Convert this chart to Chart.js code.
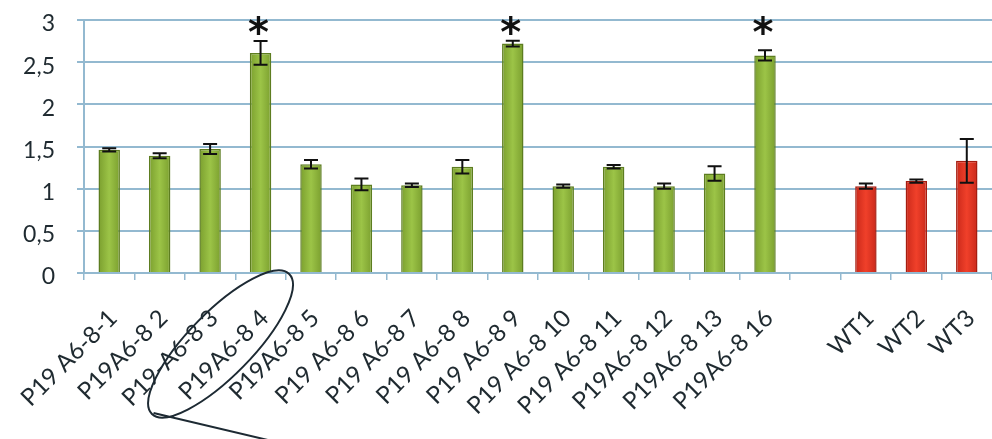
<!DOCTYPE html>
<html>
<head>
<meta charset="utf-8">
<script src="https://cdn.jsdelivr.net/npm/chart.js@4"></script>
<style>
  html, body { margin: 0; padding: 0; background: #fff; }
  #wrap { width: 992px; height: 439px; position: relative; }
</style>
</head>
<body>
<div id="wrap"><canvas id="chart"></canvas></div>
<script>
const labels = [
  "P19 A6-8-1", "P19A6-8 2", "P19-A6-8 3", "P19A6-8 4", "P19A6-8 5",
  "P19 A6-8 6", "P19 A6-8 7", "P19 A6-8 8", "P19 A6-8 9", "P19 A6-8 10",
  "P19 A6-8 11", "P19A6-8 12", "P19A6-8 13", "P19A6-8 16", "",
  "WT1", "WT2", "WT3"
];
const values = [1.46, 1.39, 1.47, 2.61, 1.29, 1.05, 1.04, 1.26, 2.72, 1.03, 1.26, 1.03, 1.18, 2.58, null, 1.03, 1.09, 1.33];
const errors = [0.02, 0.03, 0.06, 0.14, 0.05, 0.07, 0.02, 0.08, 0.035, 0.02, 0.02, 0.03, 0.085, 0.06, null, 0.03, 0.02, 0.26];
const stars = [false, false, false, true, false, false, false, false, true, false, false, false, false, true, false, false, false, false];
const groups = ["line", "line", "line", "line", "line", "line", "line", "line", "line", "line", "line", "line", "line", "line", "", "wt", "wt", "wt"];
const yTicks = [0, 0.5, 1, 1.5, 2, 2.5, 3];
const starLevel = 2.94;
const circledIndex = 3;

const gridBlue = "#93b9d0";
const textColor = "#1f2a30";

function barFill(context) {
  const chart = context.chart;
  const g = groups[context.dataIndex];
  const dark = g === "wt" ? "#c8281a" : "#7a9e2e";
  const light = g === "wt" ? "#f0402a" : "#9cc447";
  const xs = chart.scales.x;
  if (!xs || xs.width === undefined) return light;
  const x = xs.getPixelForValue(context.dataIndex);
  const half = 11;
  const grad = chart.ctx.createLinearGradient(x - half, 0, x + half, 0);
  grad.addColorStop(0, dark);
  grad.addColorStop(0.5, light);
  grad.addColorStop(1, dark);
  return grad;
}

function barBorder(context) {
  return groups[context.dataIndex] === "wt" ? "#a61d10" : "#5d7d20";
}

const extras = {
  id: "extras",
  afterDatasetsDraw(chart) {
    const ctx = chart.ctx;
    const meta = chart.getDatasetMeta(0);
    const y = chart.scales.y;
    const x = chart.scales.x;
    ctx.save();
    // error bars
    ctx.strokeStyle = "#111";
    ctx.lineWidth = 2;
    meta.data.forEach((bar, i) => {
      if (values[i] == null) return;
      const top = y.getPixelForValue(values[i] + errors[i]);
      const bot = y.getPixelForValue(values[i] - errors[i]);
      ctx.beginPath();
      ctx.moveTo(bar.x, top);
      ctx.lineTo(bar.x, bot);
      ctx.moveTo(bar.x - 7, top);
      ctx.lineTo(bar.x + 7, top);
      ctx.moveTo(bar.x - 7, bot);
      ctx.lineTo(bar.x + 7, bot);
      ctx.stroke();
    });
    // significance stars
    ctx.fillStyle = "#111";
    ctx.font = "bold 40px 'DejaVu Sans'";
    ctx.textAlign = "center";
    ctx.textBaseline = "alphabetic";
    const m = ctx.measureText("*");
    const mid = (m.actualBoundingBoxAscent - m.actualBoundingBoxDescent) / 2;
    stars.forEach((s, i) => {
      if (!s) return;
      const px = x.getPixelForValue(i) - 2;
      const py = y.getPixelForValue(starLevel);
      ctx.fillText("*", px, py + mid);
    });
    // hand-drawn circle round one label
    const cx = x.getPixelForValue(circledIndex) - 40;
    const cy = chart.chartArea.bottom + 71;
    ctx.strokeStyle = "#1d2a33";
    ctx.lineWidth = 2;
    ctx.beginPath();
    ctx.ellipse(cx, cy, 98, 32, -Math.PI / 4 - 0.01, 0, Math.PI * 2);
    ctx.moveTo(cx - 67, cy + 69);
    ctx.lineTo(cx + 60, cy + 99);
    ctx.stroke();
    ctx.restore();
  }
};

new Chart(document.getElementById("chart"), {
  type: "bar",
  data: {
    labels: labels,
    datasets: [{
      data: values,
      backgroundColor: barFill,
      borderColor: barBorder,
      borderWidth: 1.5,
      barPercentage: 0.85,
      categoryPercentage: 0.5
    }]
  },
  options: {
    responsive: true,
    maintainAspectRatio: false,
    animation: false,
    layout: { padding: { top: 20, right: 0, left: 0, bottom: 0 } },
    plugins: { legend: { display: false }, tooltip: { enabled: false } },
    scales: {
      x: {
        afterFit(scale) {
          scale.height = 166;
          scale.paddingLeft = 0;
          scale.paddingRight = 0;
        },
        ticks: {
          autoSkip: false, minRotation: 45, maxRotation: 45,
          color: textColor, font: { family: "Lato", size: 24 }, padding: 24, labelOffset: 4
        },
        grid: { offset: true, drawOnChartArea: false, color: gridBlue, lineWidth: 1.5, tickLength: 7 },
        border: { color: gridBlue, width: 2 }
      },
      y: {
        min: 0, max: 3,
        afterFit(scale) {
          scale.width = 84;
          scale.paddingTop = 0;
          scale.paddingBottom = 0;
        },
        afterBuildTicks(scale) { scale.ticks = yTicks.map(v => ({ value: v })); },
        ticks: {
          color: textColor, font: { family: "Lato", size: 23 }, padding: 22, labelOffset: 4,
          callback: v => String(v).replace(".", ",")
        },
        grid: { color: gridBlue, lineWidth: 2, tickLength: 7 },
        border: { color: gridBlue, width: 2 }
      }
    }
  },
  plugins: [extras]
});
</script>
</body>
</html>
